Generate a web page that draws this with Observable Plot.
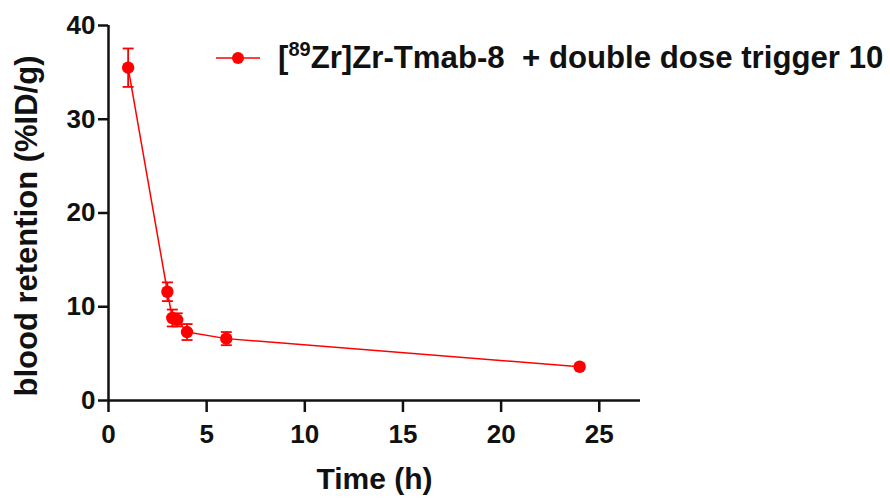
<!DOCTYPE html>
<html>
<head>
<meta charset="utf-8">
<script src="https://cdn.jsdelivr.net/npm/d3@7"></script>
<script src="https://cdn.jsdelivr.net/npm/@observablehq/plot@0.6"></script>
<style>
  body { margin: 0; background: #fff; }
  #wrap { position: relative; width: 890px; height: 502px; font-family: "Liberation Sans", Arial, sans-serif; }
  #legend { position: absolute; left: 216px; top: 40px; display: flex; align-items: center; white-space: pre;
            font-weight: bold; font-size: 31.2px; color: #111; }
  #legend svg { margin-right: 18px; }
  #legend sup { font-size: 20px; vertical-align: 0; position: relative; top: -12px; }
</style>
</head>
<body>
<div id="wrap">
  <div id="chart"></div>
  <div id="legend"></div>
</div>
<script>
// Data
const times     = [1, 3, 3.25, 3.5, 4, 6, 24];          // Time (h)
const retention = [35.5, 11.6, 8.8, 8.6, 7.3, 6.6, 3.6]; // blood retention (%ID/g)
const errors    = [2.05, 1.0, 0.9, 0.7, 0.85, 0.7, 0.2];  // error bar half-lengths
const xTicks = [0, 5, 10, 15, 20, 25];
const yTicks = [0, 10, 20, 30, 40];
const seriesName = "[89Zr]Zr-Tmab-8  + double dose trigger 10";
const xTitle = "Time (h)";
const yTitle = "blood retention (%ID/g)";

const red = "#ff0000";
const axisColor = "#111";

const data = times.map((t, i) => ({t, y: retention[i], e: errors[i]}));

const capSymbol = {
  draw(ctx, size) {
    const w = Math.sqrt(size / Math.PI);
    ctx.moveTo(-w, 0);
    ctx.lineTo(w, 0);
  }
};

const plot = Plot.plot({
  width: 890,
  height: 502,
  marginLeft: 108,
  marginRight: 250,
  marginTop: 25,
  marginBottom: 102,
  style: {fontFamily: "'Liberation Sans', Arial, sans-serif", fontWeight: "bold", background: "white", color: axisColor, overflow: "visible"},
  x: {domain: [0, 27.1]},
  y: {domain: [0, 40]},
  marks: [
    Plot.axisX({ticks: xTicks, tickSize: 12, tickPadding: 12, strokeWidth: 2.5, fontSize: 26, fontWeight: "bold", label: null, tickFormat: d => d}),
    Plot.axisY({ticks: yTicks, tickSize: 10, tickPadding: 3, strokeWidth: 2.5, fontSize: 26, fontWeight: "bold", label: null, tickFormat: d => d}),
    Plot.ruleY([0], {stroke: axisColor, strokeWidth: 2.5}),
    Plot.ruleX([0], {stroke: axisColor, strokeWidth: 2.5}),
    Plot.text([xTitle], {frameAnchor: "bottom", textAnchor: "middle", dy: 88, fontSize: 30, fontWeight: "bold", fill: axisColor}),
    Plot.text([yTitle], {frameAnchor: "left", textAnchor: "middle", rotate: -90, dx: -81, dy: 13, fontSize: 31, fontWeight: "bold", fill: axisColor}),
    Plot.line(data, {x: "t", y: "y", stroke: red, strokeWidth: 1.5}),
    Plot.ruleX(data, {x: "t", y1: d => d.y - d.e, y2: d => d.y + d.e, stroke: red, strokeWidth: 1.8}),
    Plot.dot(data, {x: "t", y: d => d.y + d.e, symbol: capSymbol, r: 5.5, stroke: red, strokeWidth: 1.8, fill: "none"}),
    Plot.dot(data, {x: "t", y: d => d.y - d.e, symbol: capSymbol, r: 5.5, stroke: red, strokeWidth: 1.8, fill: "none"}),
    Plot.dot(data, {x: "t", y: "y", r: 6.2, fill: red, stroke: "none"})
  ]
});
document.getElementById("chart").appendChild(plot);

// Legend (HTML, superscript isotope number)
const m = seriesName.match(/^\[(\d+)(.*)$/);
const legend = document.getElementById("legend");
const ns = "http://www.w3.org/2000/svg";
const sym = document.createElementNS(ns, "svg");
sym.setAttribute("width", 44); sym.setAttribute("height", 14);
const ln = document.createElementNS(ns, "line");
ln.setAttribute("x1", 0); ln.setAttribute("x2", 44); ln.setAttribute("y1", 7); ln.setAttribute("y2", 7);
ln.setAttribute("stroke", red); ln.setAttribute("stroke-width", 1.5);
const c = document.createElementNS(ns, "circle");
c.setAttribute("cx", 22); c.setAttribute("cy", 7); c.setAttribute("r", 6); c.setAttribute("fill", red);
sym.appendChild(ln); sym.appendChild(c);
legend.appendChild(sym);
const span = document.createElement("span");
span.appendChild(document.createTextNode("["));
const sup = document.createElement("sup"); sup.textContent = m[1];
span.appendChild(sup);
span.appendChild(document.createTextNode(m[2]));
legend.appendChild(span);
</script>
</body>
</html>
